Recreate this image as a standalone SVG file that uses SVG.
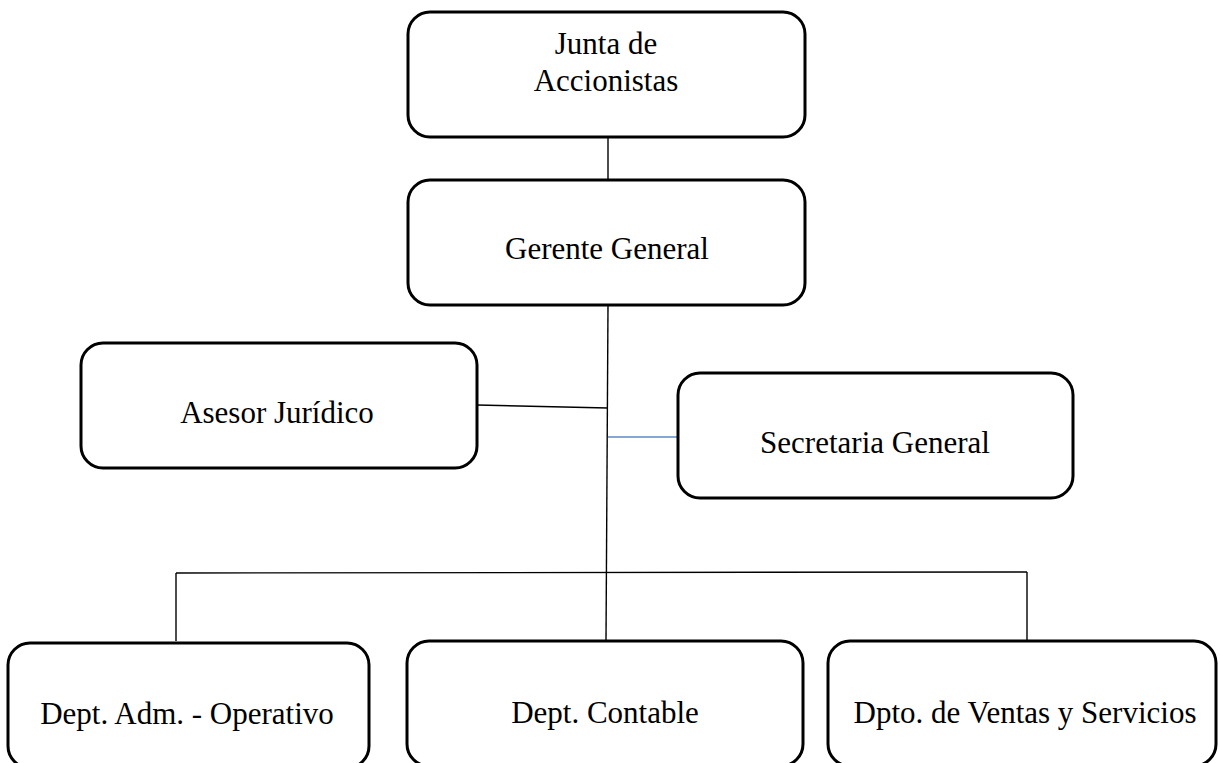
<svg xmlns="http://www.w3.org/2000/svg" width="1220" height="763" viewBox="0 0 1220 763">
<style>
.box{fill:#fff;stroke:#000;stroke-width:3}
.lbl{font-family:"Liberation Serif","Times New Roman",serif;font-size:31px;fill:#000;text-anchor:middle}
.ln{stroke:#000;stroke-width:1.4;fill:none}
.blue{stroke:#5b8ac6;stroke-width:1.6;fill:none}
</style>
<rect width="1220" height="763" fill="#fff"/>
<g id="connectors">
<line class="ln" x1="608" y1="137" x2="608" y2="180"/>
<line class="ln" x1="608" y1="305" x2="606" y2="641"/>
<line class="ln" x1="477" y1="405" x2="608" y2="408"/>
<line class="blue" x1="608" y1="437" x2="678" y2="437"/>
<line class="ln" x1="176" y1="573" x2="1027" y2="572"/>
<line class="ln" x1="176" y1="573" x2="176" y2="641"/>
<line class="ln" x1="1027" y1="572" x2="1027" y2="641"/>
</g>
<g id="junta">
<rect class="box" x="408" y="12" width="397" height="125" rx="22"/>
<text class="lbl" x="606" y="54">Junta de</text>
<text class="lbl" x="606" y="91">Accionistas</text>
</g>
<g id="gerente">
<rect class="box" x="408" y="180" width="397" height="125" rx="22"/>
<text class="lbl" x="607" y="259">Gerente General</text>
</g>
<g id="asesor">
<rect class="box" x="81" y="343" width="396" height="125" rx="22"/>
<text class="lbl" x="277" y="423">Asesor Jurídico</text>
</g>
<g id="secretaria">
<rect class="box" x="678" y="373" width="395" height="125" rx="22"/>
<text class="lbl" x="875" y="453">Secretaria General</text>
</g>
<g id="adm">
<rect class="box" x="8" y="643" width="361" height="125" rx="22"/>
<text class="lbl" x="187" y="724">Dept. Adm. - Operativo</text>
</g>
<g id="contable">
<rect class="box" x="407" y="641" width="396" height="125" rx="22"/>
<text class="lbl" x="605" y="723">Dept. Contable</text>
</g>
<g id="ventas">
<rect class="box" x="828" y="641" width="388" height="125" rx="22"/>
<text class="lbl" x="1025" y="723">Dpto. de Ventas y Servicios</text>
</g>
</svg>
